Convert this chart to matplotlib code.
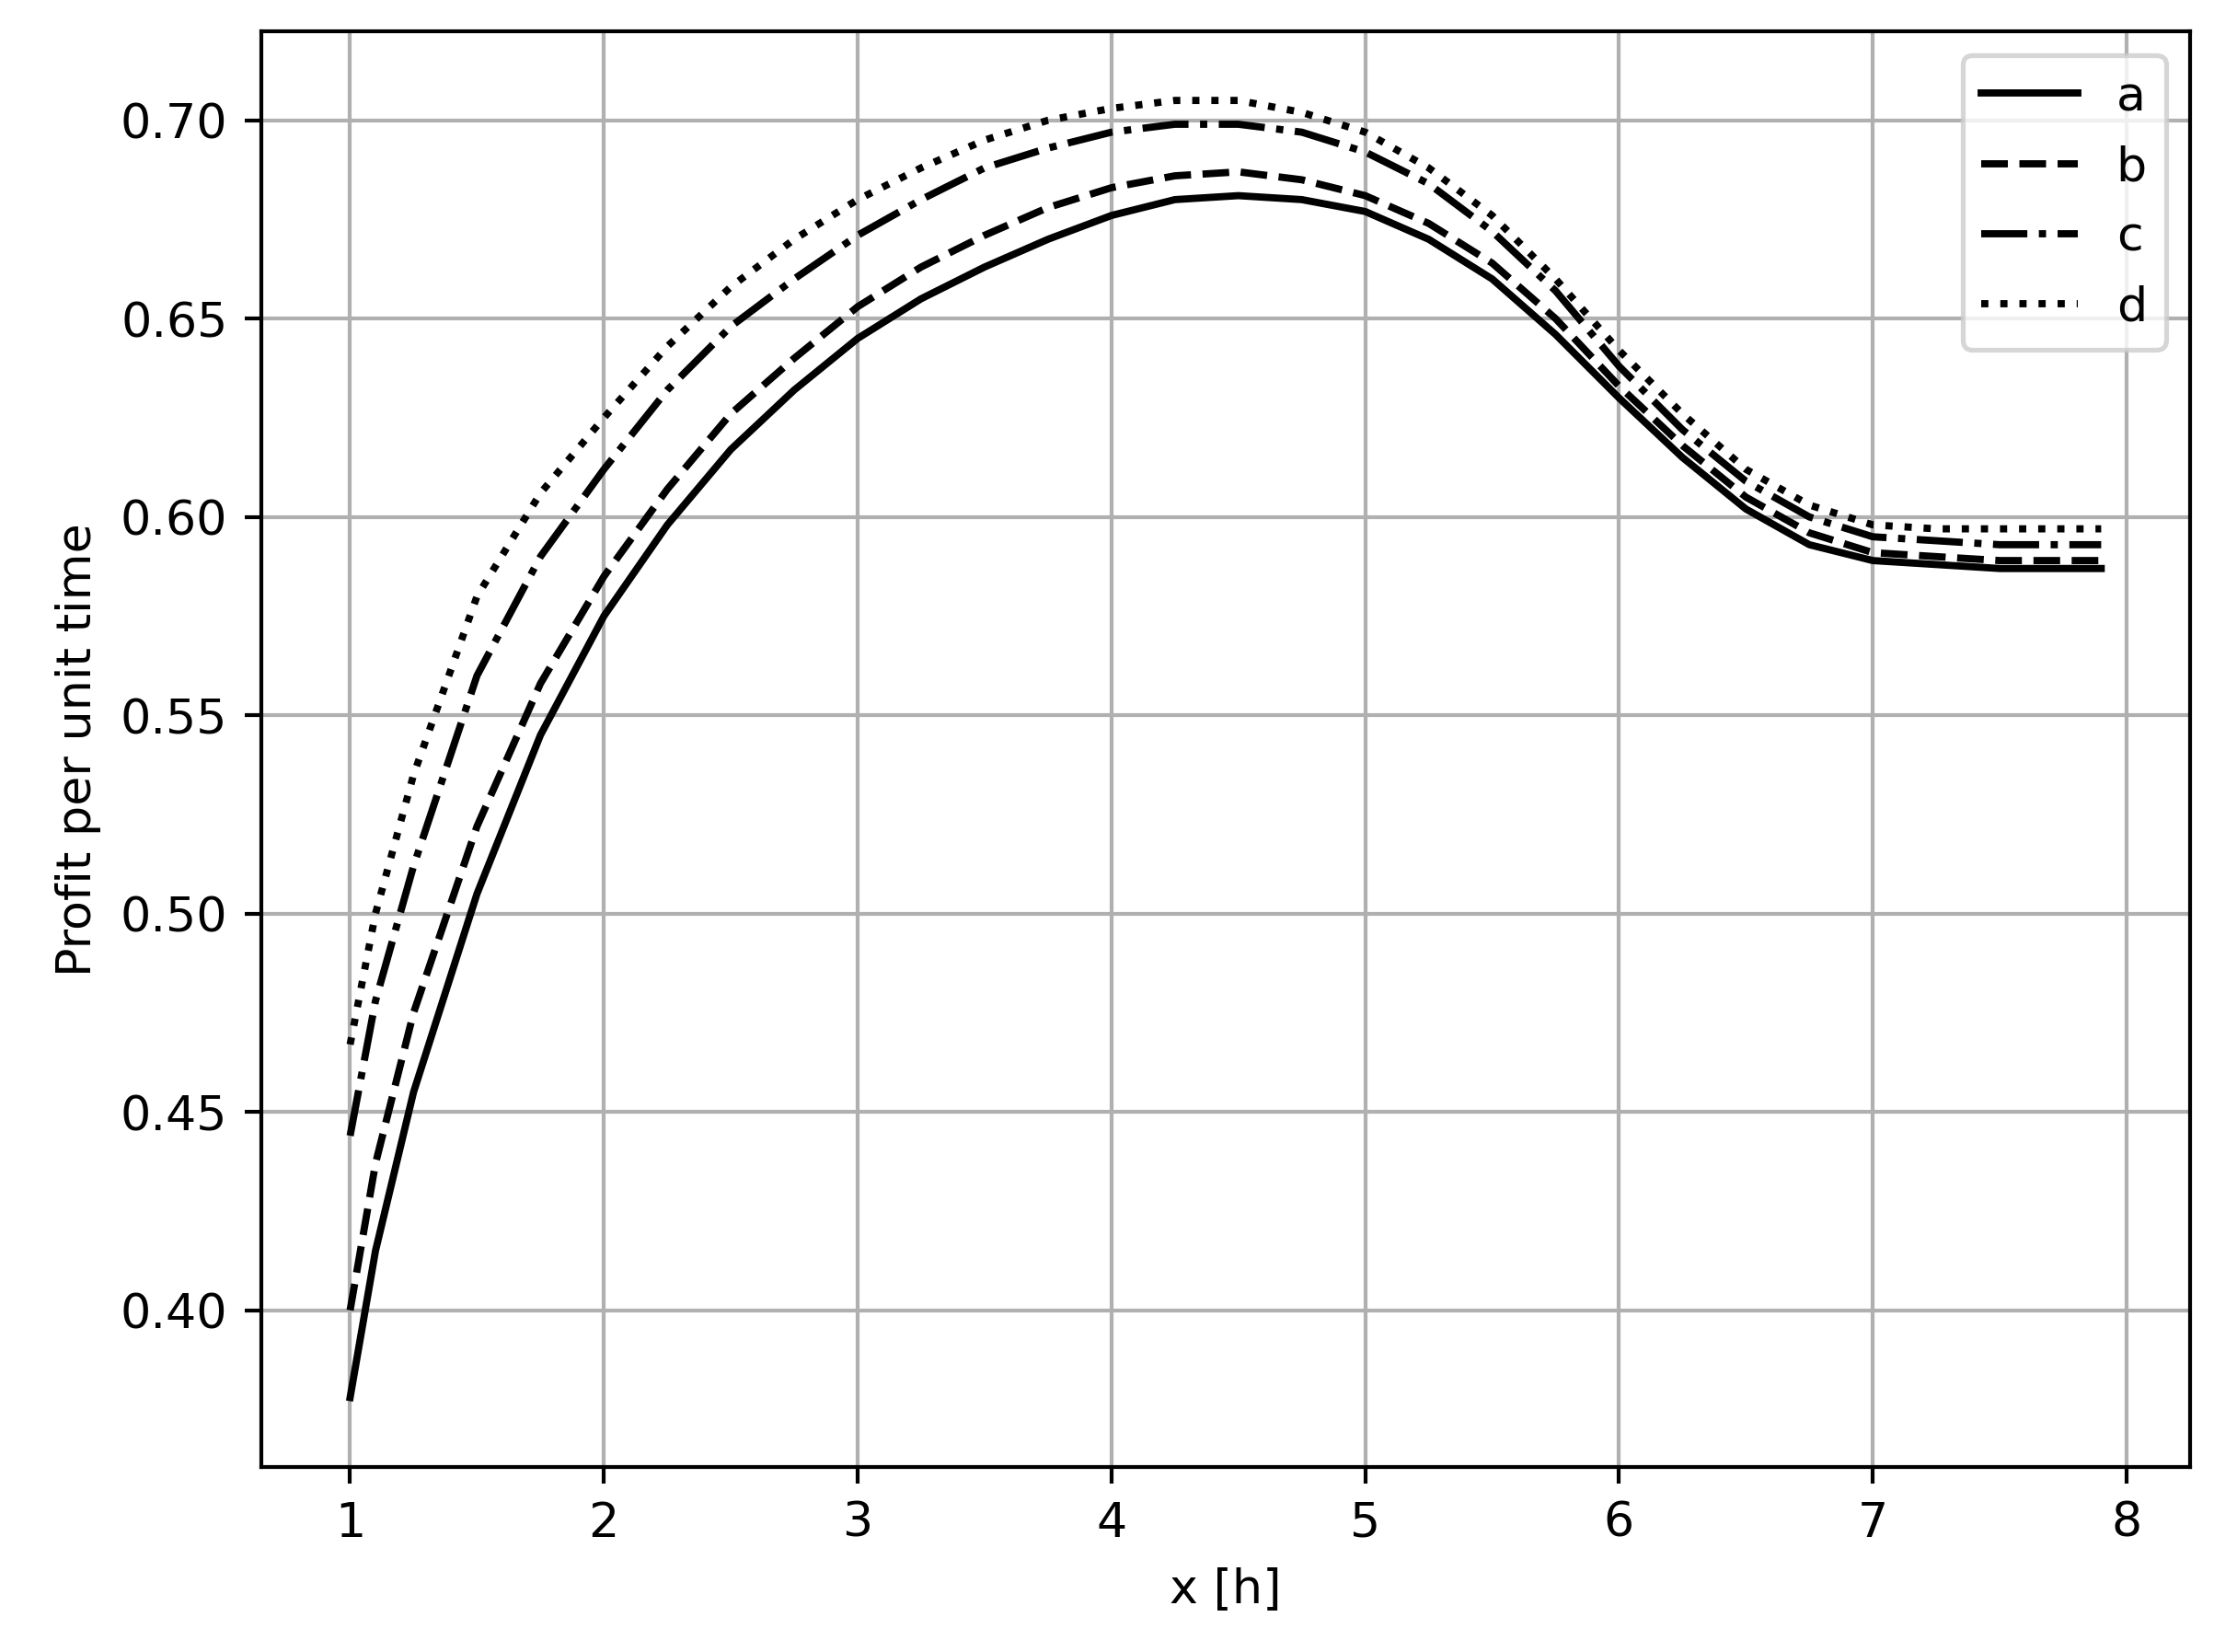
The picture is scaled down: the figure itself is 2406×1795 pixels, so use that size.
import numpy as np
from matplotlib import pyplot as plt

# values
x = [1.0, 1.1, 1.25, 1.5, 1.75, 2.0, 2.25, 2.5, 2.75, 3.0, 3.25, 3.5, 3.75, 4.0, 4.25, 4.5,
     4.75, 5.0, 5.25, 5.5, 5.75, 6.0, 6.25, 6.5, 6.75, 7.0, 7.25, 7.5, 7.9]
a = [0.378, 0.415, 0.455, 0.505, 0.545, 0.575, 0.598, 0.617, 0.632, 0.645, 0.655, 0.663, 0.670,
     0.676, 0.680, 0.681, 0.680, 0.677, 0.670, 0.660, 0.646, 0.630, 0.615, 0.602, 0.593, 0.589,
     0.588, 0.587, 0.587]
b = [0.400, 0.437, 0.475, 0.522, 0.558, 0.585, 0.607, 0.626, 0.640, 0.653, 0.663, 0.671, 0.678,
     0.683, 0.686, 0.687, 0.685, 0.681, 0.674, 0.664, 0.650, 0.633, 0.618, 0.605, 0.596, 0.591,
     0.590, 0.589, 0.589]
c = [0.444, 0.478, 0.512, 0.560, 0.590, 0.612, 0.632, 0.648, 0.660, 0.671, 0.680, 0.688, 0.693,
     0.697, 0.699, 0.699, 0.697, 0.692, 0.684, 0.672, 0.657, 0.638, 0.622, 0.609, 0.600, 0.595,
     0.594, 0.593, 0.593]
d = [0.467, 0.500, 0.535, 0.580, 0.606, 0.625, 0.643, 0.658, 0.670, 0.680, 0.688, 0.695, 0.700,
     0.703, 0.705, 0.705, 0.702, 0.697, 0.688, 0.676, 0.660, 0.642, 0.626, 0.612, 0.603, 0.598,
     0.597, 0.597, 0.597]

fig = plt.figure(figsize=(6.4, 4.775), dpi=376)
ax = fig.add_axes([0.118, 0.112, 0.871, 0.869])

ax.plot(x, a, color="black", linestyle="-", label="a")
ax.plot(x, b, color="black", linestyle="--", label="b")
ax.plot(x, c, color="black", linestyle="-.", label="c")
ax.plot(x, d, color="black", linestyle=":", label="d")

ax.set_xlim(0.65, 8.25)
ax.set_ylim(0.3605, 0.7225)
ax.set_xticks(range(1, 9))
ax.set_yticks([0.40, 0.45, 0.50, 0.55, 0.60, 0.65, 0.70])
ax.set_xlabel("x [h]")
ax.set_ylabel("Profit per unit time")
ax.grid(True)
ax.legend(loc="upper right")

plt.savefig("out.png")
